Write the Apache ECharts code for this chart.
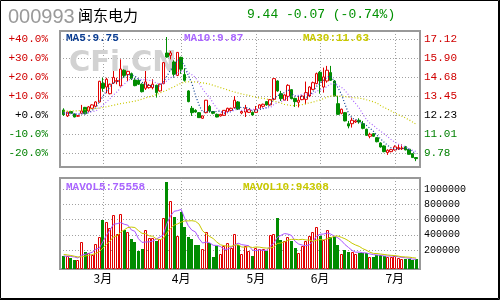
<!DOCTYPE html>
<html><head><meta charset="utf-8">
<script src="https://cdn.jsdelivr.net/npm/echarts@6/dist/echarts.min.js"></script>
<style>html,body{margin:0;padding:0;background:#fff}#c{width:500px;height:300px}</style>
</head><body><div id="c"></div>
<script>
// ---------- data ----------
const stockCode = '000993';
const stockName = '闽东电力';
const quoteText = '9.44 -0.07 (-0.74%)';
const basePrice = 12.23;
const monthNames = ['3月','4月','5月','6月','7月'];
const monthStarts = [11, 33, 54, 72, 93];
const pctTicks = [-20, -10, 0, 10, 20, 30, 40];
const volTicks = [200000, 400000, 600000, 800000, 1000000];
const maLabels = ['MA5:9.75', 'MA10:9.87', 'MA30:11.63'];
const volMaLabels = ['MAVOL5:75558', 'MAVOL10:94308'];

const opens = [12.57,12.19,12.47,12.32,12.17,12.36,12.74,12.51,12.68,12.81,
13.09,14.29,14.05,13.62,14.31,14.42,14.12,15.13,14.85,14.91,
14.50,14.48,14.23,13.97,14.01,14.01,14.16,13.80,14.27,16.24,
16.09,15.66,14.80,15.96,14.85,13.80,12.68,12.55,12.40,12.04,
12.40,12.81,12.47,12.29,12.19,12.23,12.47,12.55,12.72,13.09,
12.38,12.44,12.42,12.42,12.42,12.68,12.81,13.11,12.90,13.26,
14.44,13.62,13.20,13.45,13.88,13.32,13.07,13.24,13.26,13.47,
13.90,14.27,15.00,14.05,14.44,14.98,14.44,12.98,12.36,12.40,
11.69,11.69,11.80,11.91,11.69,11.33,10.88,11.05,10.79,10.45,
10.26,9.83,9.89,10.00,10.08,10.08,10.21,10.04,9.76,9.51];
const closes = [12.27,12.44,12.36,12.12,12.21,12.51,12.34,12.77,12.90,13.09,
14.42,13.97,14.55,14.23,14.67,14.46,15.21,14.80,15.06,14.59,
14.14,14.23,13.75,14.38,14.16,14.23,13.69,14.23,15.62,15.98,
16.24,14.87,16.28,15.20,14.48,13.11,12.40,12.44,12.08,12.19,
13.20,12.51,12.36,12.12,12.29,12.55,12.68,12.68,13.20,12.62,
12.47,12.68,12.59,12.25,12.59,12.90,12.94,12.90,13.24,14.59,
13.80,13.30,13.54,14.16,13.30,13.11,13.20,13.47,13.69,14.05,
14.33,14.91,14.44,14.70,15.13,14.48,13.47,12.29,12.62,11.87,
11.54,11.91,11.87,11.80,11.39,10.94,11.01,10.88,10.53,10.19,
9.89,9.98,10.02,10.20,10.15,10.12,10.00,9.72,9.51,9.44];
const lows = [12.19,12.12,12.34,12.10,12.12,12.30,12.30,12.42,12.64,12.77,
13.05,13.75,13.65,13.58,14.25,14.23,14.10,14.65,14.44,14.50,
14.10,14.18,13.70,13.86,13.95,13.90,13.37,13.75,14.23,15.94,
15.83,14.65,14.75,14.90,14.40,13.07,12.19,12.40,12.06,12.00,
12.36,12.40,12.30,12.10,12.15,12.19,12.42,12.51,12.68,12.57,
12.30,12.12,12.38,12.21,12.40,12.64,12.72,12.85,12.85,13.20,
13.75,13.15,13.15,13.15,13.26,12.77,12.74,13.20,12.94,13.40,
13.85,14.23,13.62,13.69,14.33,14.44,13.45,12.27,12.30,11.84,
11.39,11.44,11.74,11.69,11.33,10.90,10.75,10.85,10.49,10.15,
9.85,9.68,9.85,9.96,10.00,10.00,9.98,9.70,9.49,9.28];
const highs = [12.68,12.46,12.49,12.34,12.25,12.90,12.77,12.83,12.94,13.13,
14.45,14.65,14.65,14.27,15.08,14.65,15.83,15.19,15.08,14.98,
14.65,14.55,14.29,15.08,14.25,14.55,14.20,14.27,15.66,17.27,
16.37,15.77,16.30,16.00,15.26,13.85,12.83,12.62,12.44,12.21,
13.22,12.90,12.51,12.34,12.32,12.57,12.72,12.72,13.47,13.15,
12.55,12.90,12.62,12.47,12.83,12.94,12.98,13.15,13.28,14.61,
14.48,13.80,13.58,14.23,13.92,13.37,13.47,13.52,14.40,14.10,
14.40,14.98,15.08,15.30,15.41,15.41,14.50,13.47,12.66,12.44,
11.87,12.08,11.95,12.04,11.87,11.37,11.11,11.09,10.83,10.49,
10.30,10.04,10.06,10.30,10.36,10.36,10.26,10.06,9.79,9.53];
const volumes = [125000,115000,92000,70000,70000,306000,175000,156000,138000,280000,
370000,602000,572000,495000,662000,405000,678000,458000,439000,346000,
311000,191000,214000,466000,358000,358000,324000,345000,622000,1100000,
852000,636000,388000,702000,505000,370000,346000,271000,260000,210000,
440000,292000,110000,249000,147000,249000,293000,227000,412000,271000,
150000,258000,191000,125000,227000,218000,214000,191000,404000,412000,
616000,337000,315000,368000,324000,227000,160000,249000,324000,390000,
439000,505000,382000,337000,461000,368000,368000,271000,150000,204000,
174000,174000,150000,160000,160000,160000,110000,105000,135000,135000,
120000,105000,105000,125000,95000,76000,85000,76000,68000,76000];
// moving-average values before enough history is on the chart
const ma5Head = [12.40,12.36,12.33,12.30];
const ma10Head = [12.38,12.37,12.36,12.35,12.34,12.36,12.38,12.42,12.47];
const ma30Head = [12.50,12.50,12.51,12.51,12.52,12.55,12.60,12.63,12.65,12.67,
12.69,12.73,12.78,12.83,12.88,12.93,12.98,13.02,13.06,13.10,
13.14,13.20,13.27,13.35,13.42,13.48,13.56,13.66,13.76];
const mavol5Head = [120000,118000,115000,108000];
const mavol10Head = [140000,135000,128000,118000,108000,110000,120000,130000,140000];

// ---------- build ----------
const RED = '#e00000', GREEN = '#008c00', GRID = '#a0a0a0';
const X_MIN = -1.04, X_MAX = 100.08;
const P_MIN = -27.21, P_MAX = 44.37;
const priceMin = basePrice * (1 + P_MIN / 100), priceMax = basePrice * (1 + P_MAX / 100);
const priceTicks = pctTicks.map(p => basePrice * (1 + p / 100));
const V_MIN = -50800, V_MAX = 1150500;

function movAvg(arr, n, head) {
  return arr.map((_, i) => {
    if (i < n - 1) return [i, head[i]];
    let s = 0; for (let k = i - n + 1; k <= i; k++) s += arr[k];
    return [i, s / n];
  });
}
const candles = opens.map((o, i) => [i, o, closes[i], lows[i], highs[i]]);
const volData = volumes.map((v, i) => [i, v, closes[i] >= opens[i] ? 1 : 0]);
const ma5 = movAvg(closes, 5, ma5Head), ma10 = movAvg(closes, 10, ma10Head), ma30 = movAvg(closes, 30, ma30Head);
const mv5 = movAvg(volumes, 5, mavol5Head), mv10 = movAvg(volumes, 10, mavol10Head);

const MONO = 'Liberation Mono';
const dotted = { color: GRID, width: 1, type: [1, 2] };
function xAxis(gi, showLabel) {
  return {
    type: 'value', gridIndex: gi, min: X_MIN, max: X_MAX,
    axisLine: { show: false },
    axisTick: { show: false, customValues: monthStarts },
    axisLabel: { show: showLabel, customValues: monthStarts,
      formatter: v => monthNames[monthStarts.indexOf(Number(v))] || '',
      color: '#000', fontSize: 12, fontFamily: 'Noto Sans CJK SC', margin: 3 },
    splitLine: { show: true, lineStyle: dotted }
  };
}
const colByVal = (v, mid) => Math.abs(v - mid) < 1e-6 ? '#000' : (v > mid ? '#d00000' : '#008000');

const option = {
  animation: false,
  backgroundColor: '#fff',
  grid: [
    { left: 60, right: 80, top: 31, height: 136, show: true, borderColor: '#999', borderWidth: 2, backgroundColor: 'transparent' },
    { left: 60, right: 80, top: 178, height: 91, show: true, borderColor: '#999', borderWidth: 2, backgroundColor: 'transparent' }
  ],
  xAxis: [xAxis(0, false), xAxis(1, true)],
  yAxis: [
    { type: 'value', gridIndex: 0, position: 'left', min: P_MIN, max: P_MAX,
      axisLine: { show: false }, axisTick: { show: false, customValues: pctTicks },
      axisLabel: { customValues: pctTicks, fontFamily: MONO, fontSize: 11, margin: 12,
        formatter: v => (Number(v) >= 0 ? '+' : '') + Number(v).toFixed(1) + '%',
        color: v => colByVal(Number(v), 0) },
      splitLine: { show: true, lineStyle: dotted } },
    { type: 'value', gridIndex: 0, position: 'right', min: priceMin, max: priceMax,
      axisLine: { show: false }, axisTick: { show: false, customValues: priceTicks },
      axisLabel: { customValues: priceTicks, fontFamily: MONO, fontSize: 11, margin: 4,
        formatter: v => Number(v).toFixed(2),
        color: v => colByVal(Number(v), basePrice) },
      splitLine: { show: false } },
    { type: 'value', gridIndex: 1, position: 'right', min: V_MIN, max: V_MAX,
      axisLine: { show: false }, axisTick: { show: false, customValues: volTicks },
      axisLabel: { customValues: volTicks, fontFamily: MONO, fontSize: 10, margin: 4, color: '#000',
        formatter: v => String(Math.round(Number(v))) },
      splitLine: { show: true, lineStyle: dotted } }
  ],
  graphic: [
    { type: 'rect', shape: { x: 0.5, y: 0.5, width: 498, height: 298 }, style: { fill: 'none', stroke: '#000', lineWidth: 1 }, z: 10 },
    { type: 'polyline', shape: { points: [[499.5, 0], [499.5, 299.5], [0, 299.5]] }, style: { fill: 'none', stroke: '#000', lineWidth: 1 }, z: 10 },
    { type: 'text', x: 8, y: 17, style: { text: stockCode, fill: '#9a9a9a', font: '20px "Liberation Sans"', verticalAlign: 'middle' } },
    { type: 'text', x: 78, y: 15, style: { text: stockName, fill: '#000', font: '15px "Noto Sans CJK SC"', verticalAlign: 'middle' } },
    { type: 'text', x: 247, y: 15, style: { text: quoteText, fill: '#009000', font: '13px "Liberation Mono"', verticalAlign: 'middle' } },
    { type: 'text', x: 69, y: 63, z: 1, style: { text: 'CFi.CN', fill: '#d2d2d2', font: 'bold 29px "DejaVu Sans"', verticalAlign: 'middle' } },
    { type: 'text', x: 66, y: 38, z: 20, style: { text: maLabels[0], fill: '#0b3d91', font: 'bold 11px "Liberation Mono"', verticalAlign: 'middle' } },
    { type: 'text', x: 184, y: 38, z: 20, style: { text: maLabels[1], fill: '#aa66ff', font: 'bold 11px "Liberation Mono"', verticalAlign: 'middle' } },
    { type: 'text', x: 303, y: 38, z: 20, style: { text: maLabels[2], fill: '#c8c800', font: 'bold 11px "Liberation Mono"', verticalAlign: 'middle' } },
    { type: 'text', x: 66, y: 187, z: 20, style: { text: volMaLabels[0], fill: '#aa66ff', font: 'bold 11px "Liberation Mono"', verticalAlign: 'middle' } },
    { type: 'text', x: 243, y: 187, z: 20, style: { text: volMaLabels[1], fill: '#c8c800', font: 'bold 11px "Liberation Mono"', verticalAlign: 'middle' } }
  ],
  series: [
    { type: 'candlestick', xAxisIndex: 0, yAxisIndex: 1, data: candles, barWidth: 3, z: 3,
      itemStyle: { color: '#fff', color0: GREEN, borderColor: RED, borderColor0: GREEN, borderWidth: 1 } },
    { type: 'line', xAxisIndex: 0, yAxisIndex: 1, data: ma5, showSymbol: false, z: 4, lineStyle: { color: '#0b3d91', width: 1.2, type: [1, 2] } },
    { type: 'line', xAxisIndex: 0, yAxisIndex: 1, data: ma10, showSymbol: false, z: 4, lineStyle: { color: '#aa66ff', width: 1.2, type: [1, 2] } },
    { type: 'line', xAxisIndex: 0, yAxisIndex: 1, data: ma30, showSymbol: false, z: 4, lineStyle: { color: '#c8c800', width: 1.2, type: [1, 2] } },
    { type: 'custom', xAxisIndex: 1, yAxisIndex: 2, data: volData, encode: { x: 0, y: 1 }, z: 3,
      renderItem: (params, api) => {
        const x = api.value(0), v = api.value(1), up = api.value(2);
        const top = api.coord([x, v]), base = api.coord([x, V_MIN]);
        const cx = Math.round(top[0] - 1.5);
        const ty = Math.round(top[1]);
        if (up) {
          return { type: 'rect', shape: { x: cx + 0.5, y: ty + 0.5, width: 2, height: base[1] - ty - 1 },
            style: { fill: '#fff', stroke: RED, lineWidth: 1 } };
        }
        return { type: 'rect', shape: { x: cx, y: ty, width: 3, height: base[1] - ty }, style: { fill: GREEN } };
      } },
    { type: 'line', xAxisIndex: 1, yAxisIndex: 2, data: mv5, showSymbol: false, z: 4, lineStyle: { color: '#aa55ff', width: 1 } },
    { type: 'line', xAxisIndex: 1, yAxisIndex: 2, data: mv10, showSymbol: false, z: 4, lineStyle: { color: '#c8c800', width: 1 } }
  ]
};
echarts.init(document.getElementById('c'), null, { renderer: 'canvas' }).setOption(option);
</script></body></html>
